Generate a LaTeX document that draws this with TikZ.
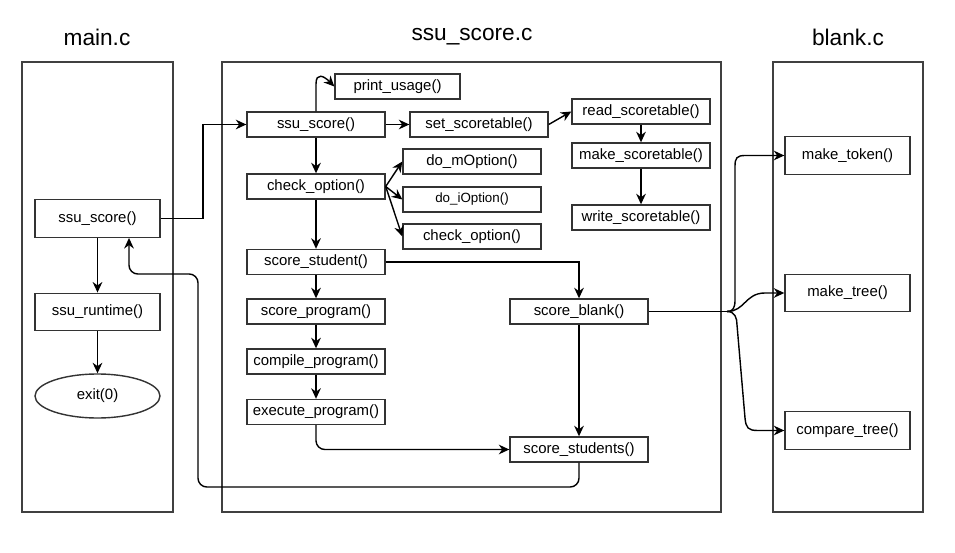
\documentclass[tikz,border=0pt]{standalone}
\usepackage{fontspec}
\setmainfont{Liberation Sans}
\usepackage{tikz}
\usetikzlibrary{arrows.meta}
\usetikzlibrary{shapes}

\begin{document}
\begin{tikzpicture}[x=0.02cm, y=-0.02cm,
    fn/.style={draw=black!80, line width=0.8pt, fill=white, inner sep=0pt,
      minimum width=2.76cm, minimum height=0.5cm, font=\fontsize{8.5}{10}\selectfont},
    fnbig/.style={fn, minimum width=2.5cm, minimum height=0.75cm},
    filebox/.style={draw=black!75, line width=0.8pt},
    title/.style={font=\fontsize{12.9}{15}\selectfont},
    arr/.style={line width=0.8pt, -{Stealth[length=6pt,width=5.5pt]}}]
    \useasboundingbox (0,0) rectangle (955,553);
    \draw[filebox] (22,62) rectangle (173,512);
    \draw[filebox] (222,62) rectangle (721,512);
    \draw[filebox] (773,62) rectangle (923,512);
    \node[title] (tmain) at (97,37) {main.c};
    \node[title] (tscore) at (472,37) {ssu\_score.c};
    \node[title] (tblank) at (848,37) {blank.c};
    % main.c
    \node[fnbig] (mscore) at (97.5,218.5) {ssu\_score()};
    \node[fnbig] (mrun) at (97.5,312) {ssu\_runtime()};
    \node[fn, ellipse, minimum width=2.5cm, minimum height=0.88cm] (mexit) at (97.5,396) {exit(0)};
    % ssu_score.c
    \node[fn, minimum width=2.5cm] (pusage) at (397.5,86.5) {print\_usage()};
    \node[fn] (sscore) at (316,124.5) {ssu\_score()};
    \node[fn] (setst) at (479,124.5) {set\_scoretable()};
    \node[fn] (readst) at (641,111.5) {read\_scoretable()};
    \node[fn] (makest) at (641,155.5) {make\_scoretable()};
    \node[fn] (writest) at (641,217.5) {write\_scoretable()};
    \node[fn] (chk) at (316,186.5) {check\_option()};
    \node[fn] (domopt) at (472,161.5) {do\_mOption()};
    \node[fn, font=\fontsize{7.6}{9}\selectfont] (doiopt) at (472,199.5) {do\_iOption()};
    \node[fn] (chkopt) at (472,236.5) {check\_option()};
    \node[fn] (sstudent) at (316,262) {score\_student()};
    \node[fn] (sprog) at (316,311.5) {score\_program()};
    \node[fn] (cprog) at (316,361.5) {compile\_program()};
    \node[fn] (eprog) at (316,412) {execute\_program()};
    \node[fn] (sblank) at (579,311.5) {score\_blank()};
    \node[fn] (sstudents) at (579,449.5) {score\_students()};
    % blank.c
    \node[fnbig] (mtoken) at (847.5,155.5) {make\_token()};
    \node[fnbig] (mtree) at (847.5,293) {make\_tree()};
    \node[fnbig] (ctree) at (847.5,430.5) {compare\_tree()};

    \draw[arr] (mscore.east) -- (203,218.5) |- (sscore.west);
    \draw[arr] (mscore) -- (mrun);
    \draw[arr] (mrun) -- (mexit);
    \draw[arr] (sscore.north) -- (316,84) .. controls (316,72) and (324,76) .. (pusage.west);
    \draw[arr] (sscore) -- (setst);
    \draw[arr] (setst.east) -- (readst.west);
    \draw[arr] (readst) -- (makest);
    \draw[arr] (makest) -- (writest);
    \draw[arr] (sscore) -- (chk);
    \draw[arr] (chk.east) -- (domopt.west);
    \draw[arr] (chk.east) -- (doiopt.west);
    \draw[arr] (chk.east) -- (chkopt.west);
    \draw[arr] (chk) -- (sstudent);
    \draw[arr] (sstudent.east) -| (sblank.north);
    \draw[arr] (sstudent) -- (sprog);
    \draw[arr] (sprog) -- (cprog);
    \draw[arr] (cprog) -- (eprog);
    \draw[arr, rounded corners=5pt] (eprog.south) |- (sstudents.west);
    \draw[arr] (sblank) -- (sstudents);
    \draw[arr, rounded corners=5pt] (sstudents.south) |- (198,487) -- (198,274) -- (129,274) -- (mscore.south -| 129,0);
    \coordinate (split) at (727,311.5);
    \draw[line width=0.8pt] (sblank.east) -- (split);
    \draw[arr] (split) .. controls (733,311.5) and (735,308) .. (735,300) -- (735,166)
      .. controls (735,158) and (737,155.5) .. (745,155.5) -- (mtoken.west);
    \draw[arr] (split) .. controls (745,311.5) and (745,293) .. (765,293) -- (mtree.west);
    \draw[arr] (split) .. controls (735,311.5) and (737,318) .. (737,325) -- (745,418)
      .. controls (746,428) and (748,430.5) .. (758,430.5) -- (ctree.west);
\end{tikzpicture}
\end{document}
